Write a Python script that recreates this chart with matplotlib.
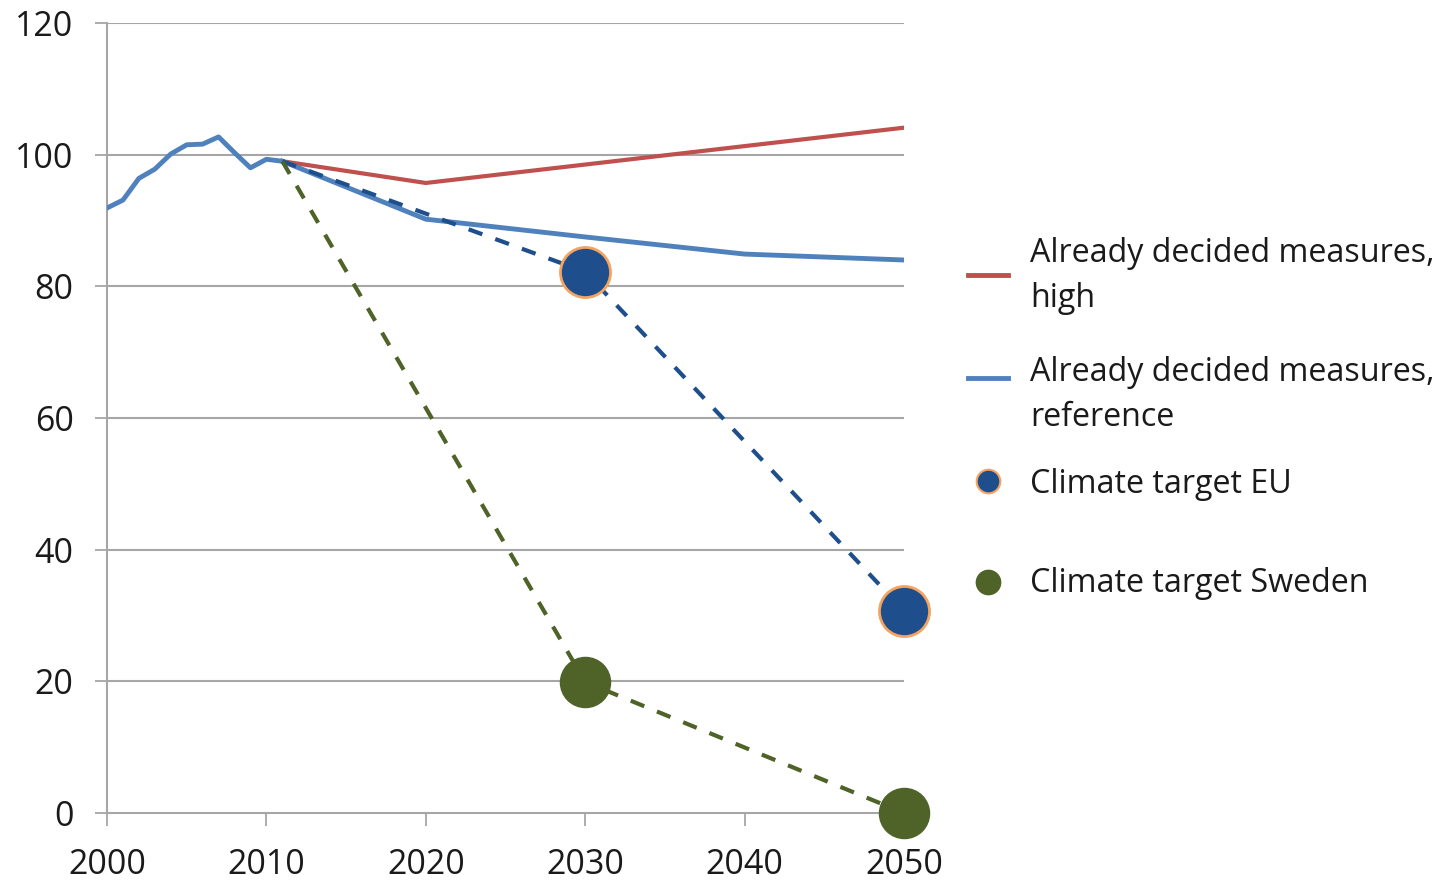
import numpy as np
import matplotlib.pyplot as plt
from matplotlib.lines import Line2D

plt.rcParams['font.family'] = ['Open Sans', 'DejaVu Sans']

# Historical emissions index (2000-2011)
hist_years = np.arange(2000, 2012)
hist_vals = [91.9, 93.1, 96.4, 97.8, 100.1, 101.5, 101.6, 102.7, 100.3, 98.0, 99.3, 99.0]

# Scenario projections
ref_years = [2011, 2020, 2030, 2040, 2050]
ref_vals = [99.0, 90.2, 87.5, 84.9, 84.0]
high_years = [2011, 2020, 2030, 2040, 2050]
high_vals = [99.0, 95.7, 98.5, 101.3, 104.1]

# Climate targets
eu_years = [2011, 2030, 2050]
eu_vals = [99.0, 82.2, 30.7]
se_years = [2011, 2030, 2050]
se_vals = [99.0, 19.9, 0.0]

labels = ['Already decided measures,\nhigh', 'Already decided measures,\nreference',
          'Climate target EU', 'Climate target Sweden']

c_red = '#C0504D'
c_blue = '#4F81BD'
c_dark = '#1F4E8C'
c_green = '#4F6228'
c_edge = '#F4A460'
c_grid = '#A6A6A6'
c_text = '#1A1A1A'

W, H = 1451, 880
fig = plt.figure(figsize=(W / 100, H / 100), dpi=100)
ax = fig.add_axes([107 / W, 1 - 813 / H, (904 - 107) / W, (813 - 23) / H])

for v in range(20, 121, 20):
    ax.axhline(v, color=c_grid, linewidth=1.5, zorder=1)

ax.plot(high_years, high_vals, color=c_red, linewidth=3, zorder=3)
ax.plot(ref_years, ref_vals, color=c_blue, linewidth=3.5, zorder=3)
ax.plot(hist_years, hist_vals, color=c_blue, linewidth=3.5, zorder=3)

ax.plot(eu_years, eu_vals, color=c_dark, linewidth=3, dashes=(3.5, 3.3), zorder=4)
ax.plot(se_years, se_vals, color=c_green, linewidth=3, dashes=(3.5, 3.3), zorder=4)
ax.scatter(eu_years[1:], eu_vals[1:], s=1300, color=c_dark, edgecolor=c_edge,
           linewidth=2, zorder=5, clip_on=False)
ax.scatter(se_years[1:], se_vals[1:], s=1300, color=c_green, edgecolor=c_green,
           linewidth=1, zorder=5, clip_on=False)

ax.set_xlim(2000, 2050)
ax.set_ylim(0, 120)
ax.set_xticks(range(2000, 2051, 10))
ax.set_yticks(range(0, 121, 20))

for s in ['top', 'right']:
    ax.spines[s].set_visible(False)
for s in ['left', 'bottom']:
    ax.spines[s].set_color(c_grid)
    ax.spines[s].set_linewidth(1.5)
ax.tick_params(axis='both', colors=c_grid, length=9, width=1.3, labelcolor=c_text,
               labelsize=24.5)
ax.tick_params(axis='x', pad=16)
ax.tick_params(axis='y', pad=15)

# legend drawn entry by entry in figure pixel space
def fx(px):
    return px / W

def fy(py):
    return 1 - py / H

legend_items = [
    ('line', c_red, None, 275, 276),
    ('line', c_blue, None, 378, 395),
    ('dot', c_dark, c_edge, 481, 484),
    ('dot', c_green, c_green, 582, 583),
]
for (kind, col, edge, hy, ty), lab in zip(legend_items, labels):
    if kind == 'line':
        fig.add_artist(Line2D([fx(968), fx(1008)], [fy(hy), fy(hy)], color=col,
                              linewidth=3.5, transform=fig.transFigure))
    else:
        fig.add_artist(Line2D([fx(988)], [fy(hy)], linestyle='none', marker='o',
                              markersize=17, markerfacecolor=col, markeredgecolor=edge,
                              markeredgewidth=1.5, transform=fig.transFigure))
    fig.text(fx(1030), fy(ty), lab, fontsize=23.2, color=c_text, va='center',
             ha='left', linespacing=1.45)

fig.savefig('out.png', dpi=100)
